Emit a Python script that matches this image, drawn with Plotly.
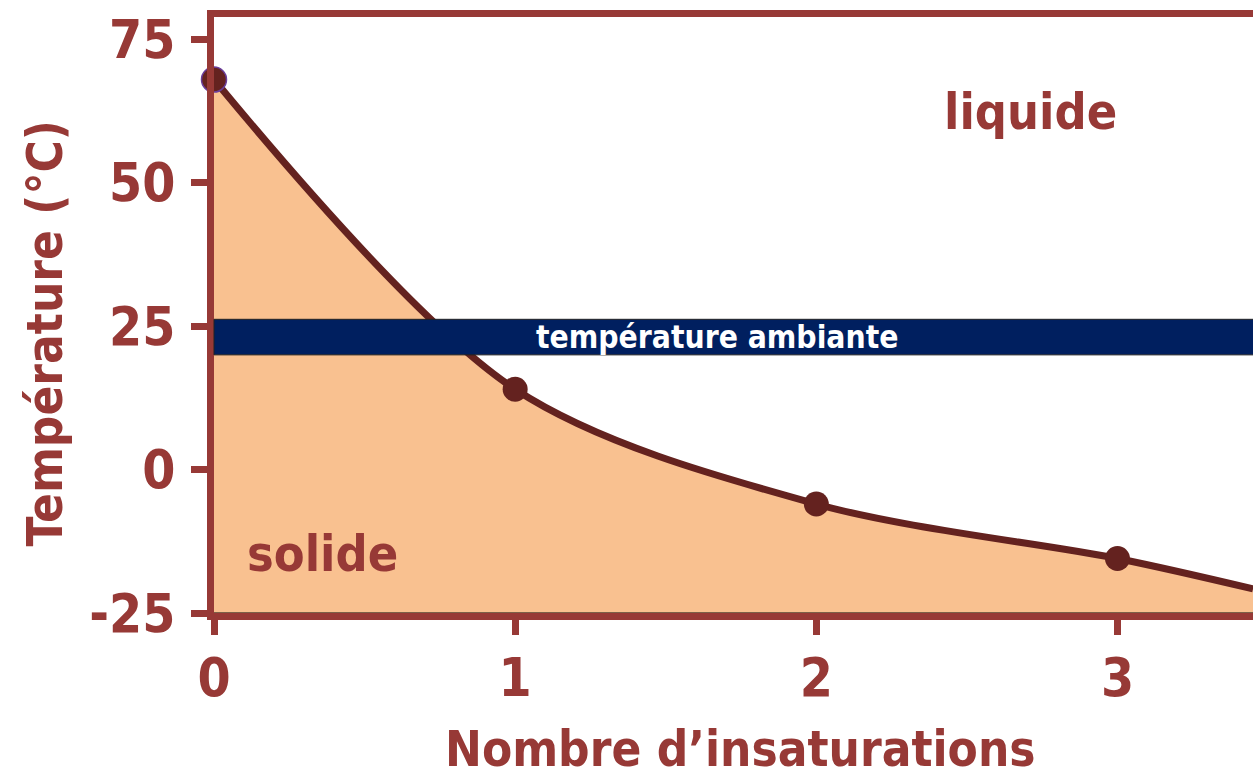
import plotly.graph_objects as go

# Data
insaturations = [0, 1, 2, 3]
temperatures = [68, 14, -6, -15.5]
curve_x = [0, 1, 2, 3, 3.45]
curve_y = [68, 14, -6, -15.5, -20.8]
baseline_y = -25
ambient_low, ambient_high = 20, 26.2
x_ticks = [0, 1, 2, 3]
y_ticks = [-25, 0, 25, 50, 75]
y_tick_labels = ["-25", "0", "25", "50", "75"]

AXIS = "#973936"
LINE = "#64221f"
FILL = "#f9c190"
BAND = "#001f5f"
FONT = "Liberation Sans Narrow, Arial Narrow, DejaVu Sans Condensed, sans-serif"

W, H = 1253, 777
L, T, B, R = 213.5, 16.5, 163.5, 0

fig = go.Figure()
# baseline for fill
fig.add_trace(go.Scatter(x=[curve_x[0], curve_x[-1]], y=[baseline_y, baseline_y],
                         mode="lines", line=dict(color="#000000", width=1.2),
                         hoverinfo="skip", showlegend=False))
fig.add_trace(go.Scatter(x=curve_x, y=curve_y, mode="lines",
                         line=dict(color=LINE, width=7, shape="spline", smoothing=0.9),
                         fill="tonexty", fillcolor=FILL, showlegend=False))
fig.add_trace(go.Scatter(x=insaturations, y=temperatures, mode="markers",
                         marker=dict(size=25, color=LINE,
                                     line=dict(color=["#6a3d9a", LINE, LINE, LINE], width=[1.5, 0, 0, 0])),
                         showlegend=False, cliponaxis=False))

fig.add_shape(type="rect", xref="paper", yref="y", x0=0, x1=1.01,
              y0=ambient_low, y1=ambient_high, fillcolor=BAND,
              line=dict(color="#222222", width=1), layer="above")
fig.add_annotation(x=1.67, y=(ambient_low + ambient_high) / 2, text="température ambiante",
                   showarrow=False, font=dict(family=FONT, size=31.5, color="white", weight="bold"))
fig.add_annotation(x=2.71, y=62.3, text="liquide", showarrow=False,
                   font=dict(family=FONT, size=50, color=AXIS, weight="bold"))
fig.add_annotation(x=0.36, y=-14.8, text="solide", showarrow=False,
                   font=dict(family=FONT, size=50, color=AXIS, weight="bold"))

fig.add_annotation(xref="paper", yref="paper", x=(740 - L) / (W - L), y=(H - B - 750) / (H - B - T),
                   xanchor="center", yanchor="middle",
                   text="Nombre d’insaturations", showarrow=False,
                   font=dict(family=FONT, size=49, color=AXIS, weight="bold"))
fig.add_annotation(xref="paper", yref="paper", x=(45 - L) / (W - L), y=(H - B - 333) / (H - B - T),
                   xanchor="center", yanchor="middle",
                   text="Température (°C)", showarrow=False, textangle=-90,
                   font=dict(family=FONT, size=49, color=AXIS, weight="bold"))

fig.update_layout(
    width=W, height=H, margin=dict(l=L, r=R, t=T, b=B),
    plot_bgcolor="white", paper_bgcolor="white",
    font=dict(family=FONT, color=AXIS, weight="bold"),
)
fig.update_xaxes(range=[0, 3.45], tickvals=x_ticks, showgrid=False, zeroline=False,
                 showline=True, linecolor=AXIS, linewidth=7, mirror=True,
                 ticks="outside", ticklen=15, tickwidth=7, tickcolor=AXIS,
                 tickfont=dict(family=FONT, size=53, color=AXIS, weight="bold"),
                 ticklabelstandoff=-3)
fig.update_yaxes(range=[-25, 78.9], tickvals=y_ticks, ticktext=y_tick_labels,
                 showgrid=False, zeroline=False,
                 showline=True, linecolor=AXIS, linewidth=7,
                 ticks="outside", ticklen=16, tickwidth=7, tickcolor=AXIS,
                 tickfont=dict(family=FONT, size=53, color=AXIS, weight="bold"),
                 ticklabelstandoff=5)

fig.write_html("out.html", config={"displayModeBar": False},
               post_script="document.body.style.margin='0';document.body.style.overflow='hidden';")
